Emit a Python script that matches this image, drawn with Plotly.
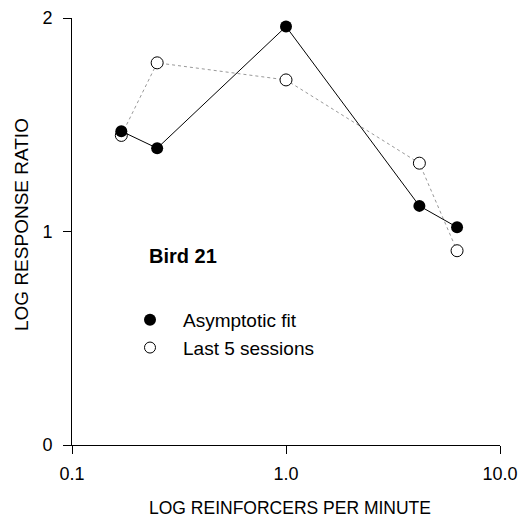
import plotly.graph_objects as go

# data
x_fit = [0.17, 0.25, 1.0, 4.2, 6.3]
y_fit = [1.47, 1.39, 1.96, 1.12, 1.02]
x_last = [0.17, 0.25, 1.0, 4.2, 6.3]
y_last = [1.45, 1.79, 1.71, 1.32, 0.91]
x_ticks = [0.1, 1.0, 10.0]
x_ticklabels = ["0.1", "1.0", "10.0"]
y_ticks = [0, 1, 2]

FONT = "Liberation Sans, Arial, sans-serif"

# page has an 8px body margin; figure sized so the plot sits where the reference has it
OFF = 8
FIG_W, FIG_H = 529 - OFF, 520 - OFF
L, R, T, B = 72, 500, 18, 445  # plot area in window pixels
W, H = R - L, B - T

def px(xp):
    return (xp - L) / W

def py(yp):
    return (B - yp) / H

fig = go.Figure()
fig.add_trace(go.Scatter(x=x_last, y=y_last, mode="lines+markers",
                         line=dict(color="#999999", width=1, dash="dot"),
                         marker=dict(symbol="circle", size=12, color="white",
                                     line=dict(color="black", width=1)),
                         showlegend=False))
fig.add_trace(go.Scatter(x=x_fit, y=y_fit, mode="lines+markers",
                         line=dict(color="black", width=1),
                         marker=dict(symbol="circle", size=12, color="black"),
                         showlegend=False))
# legend entries
fig.add_trace(go.Scatter(x=[None], y=[None], mode="markers", name="Asymptotic fit",
                         marker=dict(symbol="circle", size=12, color="black")))
fig.add_trace(go.Scatter(x=[None], y=[None], mode="markers", name="Last 5 sessions",
                         marker=dict(symbol="circle", size=11, color="white",
                                     line=dict(color="black", width=1))))

fig.add_annotation(text="<b>Bird 21</b>", xref="paper", yref="paper",
                   x=px(147), y=py(256), xanchor="left", yanchor="middle",
                   showarrow=False, font=dict(size=20, color="black", family=FONT))

fig.add_annotation(text="LOG RESPONSE RATIO", xref="paper", yref="paper",
                   x=px(21), y=py(225), xanchor="center", yanchor="middle",
                   textangle=-90, showarrow=False,
                   font=dict(size=19, color="black", family=FONT))
fig.add_annotation(text="LOG REINFORCERS PER MINUTE", xref="paper", yref="paper",
                   x=px(290), y=py(508), xanchor="center", yanchor="middle",
                   showarrow=False, font=dict(size=17.5, color="black", family=FONT))

fig.update_layout(
    width=FIG_W, height=FIG_H,
    margin=dict(l=L - OFF, r=FIG_W - (R - OFF), t=T - OFF, b=FIG_H - (B - OFF),
                autoexpand=False),
    paper_bgcolor="white", plot_bgcolor="white",
    font=dict(family=FONT, size=18, color="black"),
    legend=dict(x=px(117), y=py(301), xanchor="left", yanchor="top",
                bgcolor="rgba(0,0,0,0)", font=dict(size=19), tracegroupgap=0,
                itemwidth=56, borderwidth=0),
    xaxis=dict(type="log", range=[-1, 1], tickvals=x_ticks, ticktext=x_ticklabels,
               ticks="outside", ticklen=8, tickcolor="black", showline=True,
               linecolor="black", linewidth=1, showgrid=False, zeroline=False,
               automargin=False, ticklabelstandoff=4),
    yaxis=dict(range=[0, 2], tickvals=y_ticks, ticks="outside", ticklen=8,
               tickcolor="black", showline=True, linecolor="black", linewidth=1,
               showgrid=False, zeroline=False, automargin=False,
               ticklabelstandoff=7),
)

fig.write_html("out.html")
